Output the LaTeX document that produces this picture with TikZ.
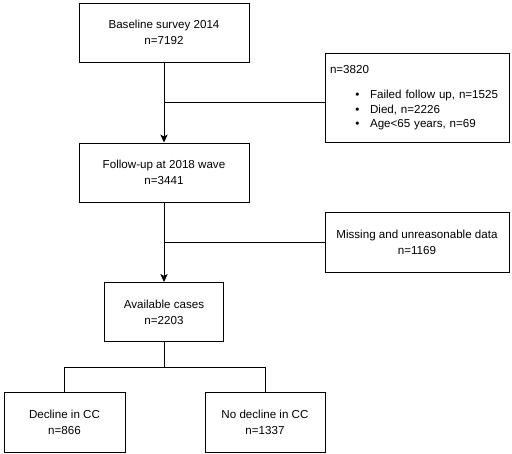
\documentclass[tikz,border=0pt]{standalone}
\usepackage{fontspec}
\setmainfont{Liberation Sans}
\usetikzlibrary{arrows.meta,positioning}
\tikzset{
  sbox/.style={draw, line width=0.75pt, align=center, font=\fontsize{8.7}{12}\selectfont,
               minimum width=#1, minimum height=44.25pt, inner sep=2pt},
  xbox/.style={draw, line width=0.75pt, align=left, font=\fontsize{8.7}{11}\selectfont,
               text width=130.5pt, inner sep=3.75pt, minimum height=#1},
  flow/.style={line width=0.75pt, -{Stealth[length=6pt,width=5.5pt,inset=1.5pt]}},
  link/.style={line width=0.75pt},
}

\begin{document}
\begin{tikzpicture}[x=0.75pt, y=-0.75pt]
\useasboundingbox (0,0) rectangle (512,454);
% Main stream
\node[sbox=127.5pt] (base) at (164,32.5) {Baseline survey 2014\\n=7192};
\node[sbox=127.5pt] (follow) at (164,172.5) {Follow-up at 2018 wave\\n=3441};
\node[sbox=89.25pt] (avail) at (164,312) {Available cases\\n=2203};

% Exclusions
\node[xbox=66.75pt] (excl1) at (417,97.5) {%
n=3820\\[8pt]
\hspace*{19pt}\textbullet\hspace{8pt}Failed follow up, n=1525\\
\hspace*{19pt}\textbullet\hspace{8pt}Died, n=2226\\
\hspace*{19pt}\textbullet\hspace{8pt}Age<65 years, n=69};
\node[sbox=138pt, minimum height=45pt] (excl2) at (417,242) {Missing and unreasonable data\\n=1169};

% Outcome groups
\node[sbox=90.75pt, minimum height=45pt] (decl) at (64.5,422) {Decline in CC\\n=866};
\node[sbox=90pt, minimum height=45pt] (nodecl) at (265,422) {No decline in CC\\n=1337};

% Connectors
\draw[flow] (base) -- (follow);
\draw[flow] (follow) -- (avail);
\coordinate (j1) at (164,102);
\coordinate (j2) at (164,242);
\draw[link] (j1) -- (j1 -| excl1.west);
\draw[link] (j2) -- (excl2.west);
\coordinate (split) at (164,367);
\draw[link] (avail) -- (split);
\draw[link] (split) -| (decl.north);
\draw[link] (split) -| (nodecl.north);
\end{tikzpicture}
\end{document}
